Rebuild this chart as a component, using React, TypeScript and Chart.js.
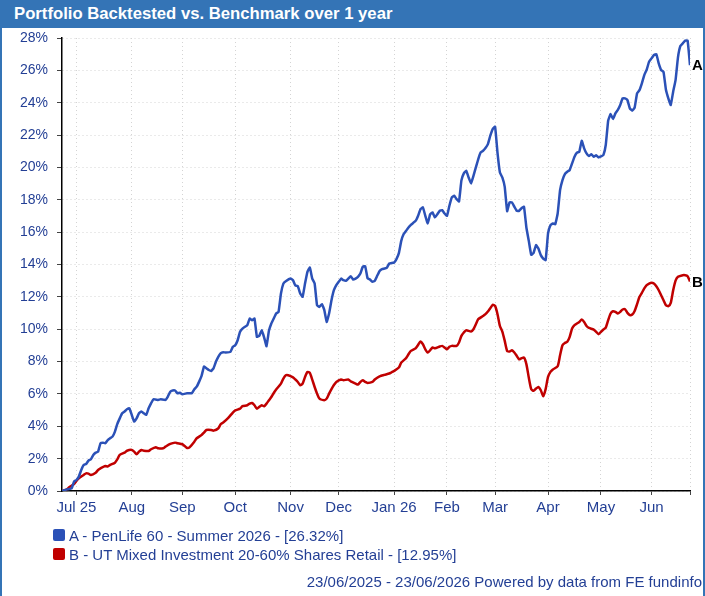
import React, { useEffect, useRef } from 'react';
import { Chart, registerables } from 'chart.js';

Chart.register(...registerables);

const TITLE = 'Portfolio Backtested vs. Benchmark over 1 year';
const FOOTER = '23/06/2025 - 23/06/2026 Powered by data from FE fundinfo';
const seriesNames = [
  'A - PenLife 60 - Summer 2026 - [26.32%]',
  'B - UT Mixed Investment 20-60% Shares Retail - [12.95%]',
];
const endLabels = ['A', 'B'];
const seriesColors = ['#2b51b7', '#c00000'];

// x axis in trading days since 23/06/2025
const tickDays = [6, 29, 50, 72, 95, 115, 138, 160, 180, 202, 224, 245, 261];
const tickLabels = ['Jul 25', 'Aug', 'Sep', 'Oct', 'Nov', 'Dec', 'Jan 26', 'Feb', 'Mar', 'Apr', 'May', 'Jun', ''];

const daysA = [
  0, 2, 4, 5, 6, 7, 8, 9, 10, 11, 12, 13, 14, 15, 16, 17, 18, 19, 20, 21, 22, 23, 24, 25, 26, 27, 28, 29, 30,
  31, 32, 33, 34, 35, 36, 37, 38, 40, 41, 43, 44, 45, 46, 47, 48, 49, 50, 52, 54, 55, 56, 57, 58, 59, 60, 61,
  62, 63, 64, 65, 66, 67, 68, 70, 71, 72, 73, 74, 75, 77, 78, 79, 80, 81, 82, 83, 84, 85, 86, 87, 88, 89, 90,
  91, 92, 93, 95, 96, 97, 98, 99, 100, 101, 102, 103, 104, 105, 106, 107, 108, 109, 110, 111, 112, 113, 114,
  115, 116, 117, 118, 119, 120, 121, 122, 123, 124, 125, 126, 127, 128, 129, 130, 131, 132, 133, 135, 136, 138,
  139, 140, 141, 142, 143, 144, 145, 147, 148, 149, 150, 151, 152, 153, 154, 155, 156, 157, 158, 159, 160, 161,
  162, 163, 164, 165, 166, 167, 168, 169, 170, 171, 172, 173, 174, 175, 176, 177, 178, 179, 180, 181, 182, 183,
  184, 185, 186, 187, 188, 189, 190, 191, 192, 193, 194, 195, 196, 197, 198, 199, 200, 201, 202, 203, 204, 205,
  206, 207, 208, 209, 210, 211, 212, 213, 214, 215, 216, 217, 218, 219, 220, 221, 222, 223, 224, 225, 226, 227,
  228, 229, 230, 231, 232, 233, 234, 235, 236, 237, 238, 239, 240, 241, 242, 243, 244, 245, 246, 247, 248, 249,
  250, 251, 252, 253, 254, 255, 256, 257, 258, 259, 260, 261,
];
const valuesA = [
  0, 0.1, 0.16, 0.58, 0.68, 0.89, 1.3, 1.61, 1.67, 1.88, 1.96, 2.23, 2.37, 2.43, 2.95, 2.99, 2.95, 3.15, 3.26,
  3.36, 3.67, 4.15, 4.49, 4.8, 4.91, 5.05, 5.11, 4.7, 4.29, 4.49, 4.8, 4.91, 4.8, 4.7, 5.11, 5.42, 5.67, 5.63,
  5.67, 5.63, 5.84, 6.14, 6.21, 6.21, 6.04, 6.08, 5.98, 6.04, 6.04, 6.29, 6.45, 6.76, 7.11, 7.69, 7.59, 7.48,
  7.42, 7.59, 8.0, 8.31, 8.52, 8.58, 8.56, 8.6, 8.91, 9.01, 9.32, 9.84, 10.04, 10.25, 10.66, 10.56, 10.66, 9.53,
  9.6, 9.94, 9.5, 8.95, 9.9, 10.35, 10.66, 10.97, 11.07, 12.21, 12.82, 12.97, 13.13, 13.03, 12.7, 12.66, 12.21,
  12.0, 12.82, 13.55, 13.81, 13.13, 12.82, 11.48, 11.38, 11.55, 11.2, 10.45, 10.97, 11.79, 12.41, 12.72, 12.93,
  13.13, 13.03, 12.99, 13.13, 13.28, 13.07, 13.13, 13.24, 13.44, 13.86, 13.9, 13.15, 13.07, 12.93, 12.99, 13.3,
  13.6, 13.71, 13.8, 14.06, 14.12, 14.33, 14.7, 15.46, 15.88, 16.08, 16.29, 16.45, 16.7, 17.01, 17.42, 17.53,
  17.0, 16.54, 17.1, 17.22, 16.91, 17.11, 17.32, 17.36, 17.15, 17.01, 17.63, 18.14, 18.25, 18.04, 17.9, 19.2,
  19.63, 19.79, 19.38, 19.01, 19.48, 20.0, 20.52, 20.93, 21.03, 21.2, 21.44, 21.96, 22.37, 22.52, 20.9, 19.69,
  19.38, 18.8, 17.3, 17.84, 17.84, 17.57, 17.32, 17.32, 17.48, 17.57, 16.29, 15.46, 14.6, 14.72, 15.2, 14.99,
  14.58, 14.37, 14.27, 15.92, 16.43, 16.54, 16.49, 17.15, 18.6, 19.22, 19.59, 19.73, 19.84, 20.25, 20.66, 20.91,
  20.97, 21.65, 21.18, 20.87, 20.7, 20.82, 20.66, 20.76, 20.62, 20.68, 20.76, 21.4, 22.9, 23.3, 23.0, 23.34,
  23.55, 23.86, 24.27, 24.27, 24.16, 23.65, 23.51, 23.7, 24.58, 24.78, 25.2, 25.71, 26.04, 26.54, 26.74, 26.95,
  27.0, 26.43, 26.02, 25.9, 24.8, 24.27, 23.86, 24.68, 25.4, 26.8, 27.51, 27.67, 27.84, 27.84, 26.32,
];

const daysB = [
  0, 2, 3, 5, 6, 7, 9, 10, 11, 12, 14, 15, 16, 18, 19, 20, 22, 23, 24, 26, 27, 29, 30, 31, 32, 33, 34, 36, 37,
  39, 40, 42, 43, 45, 47, 48, 50, 51, 52, 53, 55, 56, 58, 59, 60, 62, 63, 65, 66, 67, 69, 71, 72, 74, 75, 77,
  78, 79, 80, 81, 82, 83, 84, 85, 86, 87, 88, 89, 91, 92, 93, 94, 96, 97, 98, 99, 100, 101, 102, 103, 104, 105,
  106, 107, 109, 110, 111, 112, 113, 114, 116, 117, 119, 120, 122, 123, 124, 125, 126, 127, 129, 130, 131, 132,
  134, 136, 137, 138, 140, 141, 143, 144, 145, 147, 148, 149, 150, 151, 152, 153, 154, 155, 157, 158, 159, 160,
  161, 162, 164, 165, 166, 167, 168, 170, 171, 172, 173, 175, 176, 177, 178, 179, 180, 181, 182, 183, 184, 185,
  186, 187, 188, 189, 190, 191, 192, 193, 194, 195, 196, 197, 198, 199, 200, 201, 202, 203, 204, 206, 207, 208,
  209, 210, 211, 212, 213, 215, 216, 217, 218, 219, 221, 222, 223, 224, 225, 226, 227, 228, 229, 230, 231, 232,
  233, 234, 235, 236, 237, 238, 239, 240, 241, 242, 243, 244, 245, 246, 247, 248, 249, 250, 251, 252, 253, 254,
  255, 256, 258, 259, 260, 261,
];
const valuesB = [
  0, 0.1, 0.23, 0.43, 0.62, 0.78, 0.99, 1.09, 1.07, 0.99, 1.13, 1.3, 1.4, 1.55, 1.51, 1.61, 1.75, 1.96, 2.23,
  2.37, 2.49, 2.54, 2.43, 2.27, 2.43, 2.54, 2.49, 2.47, 2.58, 2.7, 2.64, 2.64, 2.74, 2.91, 2.99, 2.95, 2.89,
  2.78, 2.66, 2.7, 3.05, 3.26, 3.46, 3.61, 3.77, 3.77, 3.73, 3.88, 4.14, 4.23, 4.5, 4.85, 4.98, 5.09, 5.24, 5.3,
  5.4, 5.44, 5.3, 5.09, 5.2, 5.3, 5.24, 5.4, 5.61, 5.81, 6.06, 6.27, 6.64, 6.95, 7.15, 7.15, 7.02, 6.89, 6.74,
  6.54, 6.64, 7.05, 7.36, 7.3, 6.89, 6.43, 6.02, 5.71, 5.61, 5.71, 6.02, 6.3, 6.55, 6.74, 6.89, 6.85, 6.89, 6.78,
  6.64, 6.58, 6.74, 6.85, 6.74, 6.68, 6.74, 6.89, 7.0, 7.09, 7.18, 7.26, 7.34, 7.42, 7.63, 7.94, 8.21, 8.45,
  8.66, 8.82, 9.03, 9.24, 9.07, 8.76, 8.56, 8.7, 8.87, 8.82, 8.93, 8.97, 8.87, 8.76, 8.91, 8.97, 8.97, 9.18,
  9.59, 9.8, 9.94, 9.86, 10.0, 10.31, 10.62, 10.82, 10.93, 11.09, 11.3, 11.51, 11.44, 10.93, 10.2, 9.85, 9.28,
  8.66, 8.62, 8.7, 8.56, 8.35, 8.14, 8.21, 8.25, 7.84, 7.01, 6.3, 6.19, 6.33, 6.43, 6.23, 5.86, 6.3, 7.05, 7.36,
  7.51, 7.71, 8.39, 9.01, 9.15, 9.22, 9.53, 10.04, 10.25, 10.45, 10.6, 10.45, 10.2, 10.08, 9.98, 9.84, 9.69,
  9.84, 9.98, 10.1, 10.56, 10.97, 11.11, 11.07, 10.97, 11.07, 11.22, 11.24, 11.01, 10.87, 10.91, 11.13, 11.55,
  12.0, 12.25, 12.52, 12.72, 12.82, 12.87, 12.82, 12.66, 12.41, 12.1, 11.79, 11.48, 11.42, 11.63, 12.4, 13.0,
  13.24, 13.34, 13.34, 13.28, 12.95,
];

const FONT = '"Liberation Sans", Arial, Helvetica, sans-serif';
const TEXT_BLUE = '#233f95';
const FRAME_BLUE = '#3474b6';

const endLabelPlugin = {
  id: 'endLabels',
  afterDatasetsDraw(chart: any) {
    const ctx = chart.ctx;
    chart.data.datasets.forEach((_ds: any, i: number) => {
      const meta = chart.getDatasetMeta(i);
      const pt = meta.data[meta.data.length - 1];
      if (!pt) return;
      ctx.save();
      ctx.font = 'bold 15px ' + FONT;
      ctx.fillStyle = '#000';
      ctx.textAlign = 'left';
      ctx.textBaseline = 'middle';
      ctx.fillText(endLabels[i], pt.x + 2, pt.y + 1);
      ctx.restore();
    });
  },
};

export default function App() {
  const ref = useRef<HTMLCanvasElement | null>(null);

  useEffect(() => {
    document.body.style.margin = '0';
    const canvas = ref.current;
    if (!canvas) return;
    const mk = (days: number[], vals: number[]) => days.map((d, i) => ({ x: d, y: vals[i] }));
    const chart = new Chart(canvas, {
      type: 'line',
      data: {
        datasets: [
          {
            label: seriesNames[0],
            data: mk(daysA, valuesA),
            borderColor: seriesColors[0],
            backgroundColor: seriesColors[0],
            borderWidth: 2.5,
            pointRadius: 0,
            tension: 0.1,
            borderJoinStyle: 'round',
          },
          {
            label: seriesNames[1],
            data: mk(daysB, valuesB),
            borderColor: seriesColors[1],
            backgroundColor: seriesColors[1],
            borderWidth: 2.5,
            pointRadius: 0,
            tension: 0.2,
            borderJoinStyle: 'round',
          },
        ],
      },
      options: {
        animation: false,
        responsive: false,
        devicePixelRatio: 1,
        layout: { padding: { top: 38, left: 0, right: 15, bottom: 75 } },
        plugins: { legend: { display: false }, tooltip: { enabled: false }, title: { display: false } },
        scales: {
          x: {
            type: 'linear',
            min: 0,
            max: 261,
            afterBuildTicks: (s: any) => {
              s.ticks = tickDays.map((v) => ({ value: v }));
            },
            afterFit: (s: any) => {
              s.height = 30;
            },
            ticks: {
              autoSkip: false,
              maxRotation: 0,
              minRotation: 0,
              color: TEXT_BLUE,
              font: { size: 15, family: FONT },
              padding: 4,
              callback: (_v: any, i: number) => tickLabels[i],
            },
            grid: { color: '#d4d4d4', tickColor: '#444', tickLength: 4, lineWidth: 1 },
            border: { display: true, color: '#000', width: 1.5, dash: [1, 3] },
          },
          y: {
            type: 'linear',
            min: 0,
            max: 28,
            afterFit: (s: any) => {
              s.width = 62;
            },
            ticks: {
              stepSize: 2,
              color: TEXT_BLUE,
              font: { size: 14, family: FONT },
              padding: 9,
              callback: (v: any) => v + '%',
            },
            grid: { color: '#d4d4d4', tickColor: '#444', tickLength: 5, lineWidth: 1 },
            border: { display: true, color: '#000', width: 1.5, dash: [1, 3] },
          },
        },
      },
      plugins: [endLabelPlugin],
    } as any);
    return () => chart.destroy();
  }, []);

  return (
    <div style={{ position: 'relative', width: 705, height: 596, overflow: 'hidden', background: '#fff', fontFamily: FONT }}>
      <canvas ref={ref} width={705} height={596} style={{ position: 'absolute', left: 0, top: 0, width: 705, height: 596 }} />
      <div style={{ position: 'absolute', left: 0, top: 0, width: 705, height: 28, background: FRAME_BLUE }} />
      <div
        style={{
          position: 'absolute',
          left: 14,
          top: 0,
          height: 28,
          lineHeight: '28px',
          color: '#fff',
          fontWeight: 'bold',
          fontSize: 16.7,
          whiteSpace: 'nowrap',
        }}
      >
        {TITLE}
      </div>
      <div style={{ position: 'absolute', left: 0, top: 0, width: 2, height: 596, background: FRAME_BLUE }} />
      <div style={{ position: 'absolute', left: 703, top: 0, width: 2, height: 596, background: FRAME_BLUE }} />
      {seriesNames.map((name, i) => (
        <div key={name} style={{ position: 'absolute', left: 53, top: 526 + i * 19, height: 18, display: 'flex', alignItems: 'center', whiteSpace: 'nowrap' }}>
          <span style={{ display: 'inline-block', width: 12, height: 12, borderRadius: 2, background: seriesColors[i], marginRight: 4 }} />
          <span style={{ color: TEXT_BLUE, fontSize: 15 }}>{name}</span>
        </div>
      ))}
      <div style={{ position: 'absolute', right: 3, top: 573, height: 18, lineHeight: '18px', color: TEXT_BLUE, fontSize: 15, whiteSpace: 'nowrap' }}>
        {FOOTER}
      </div>
    </div>
  );
}
